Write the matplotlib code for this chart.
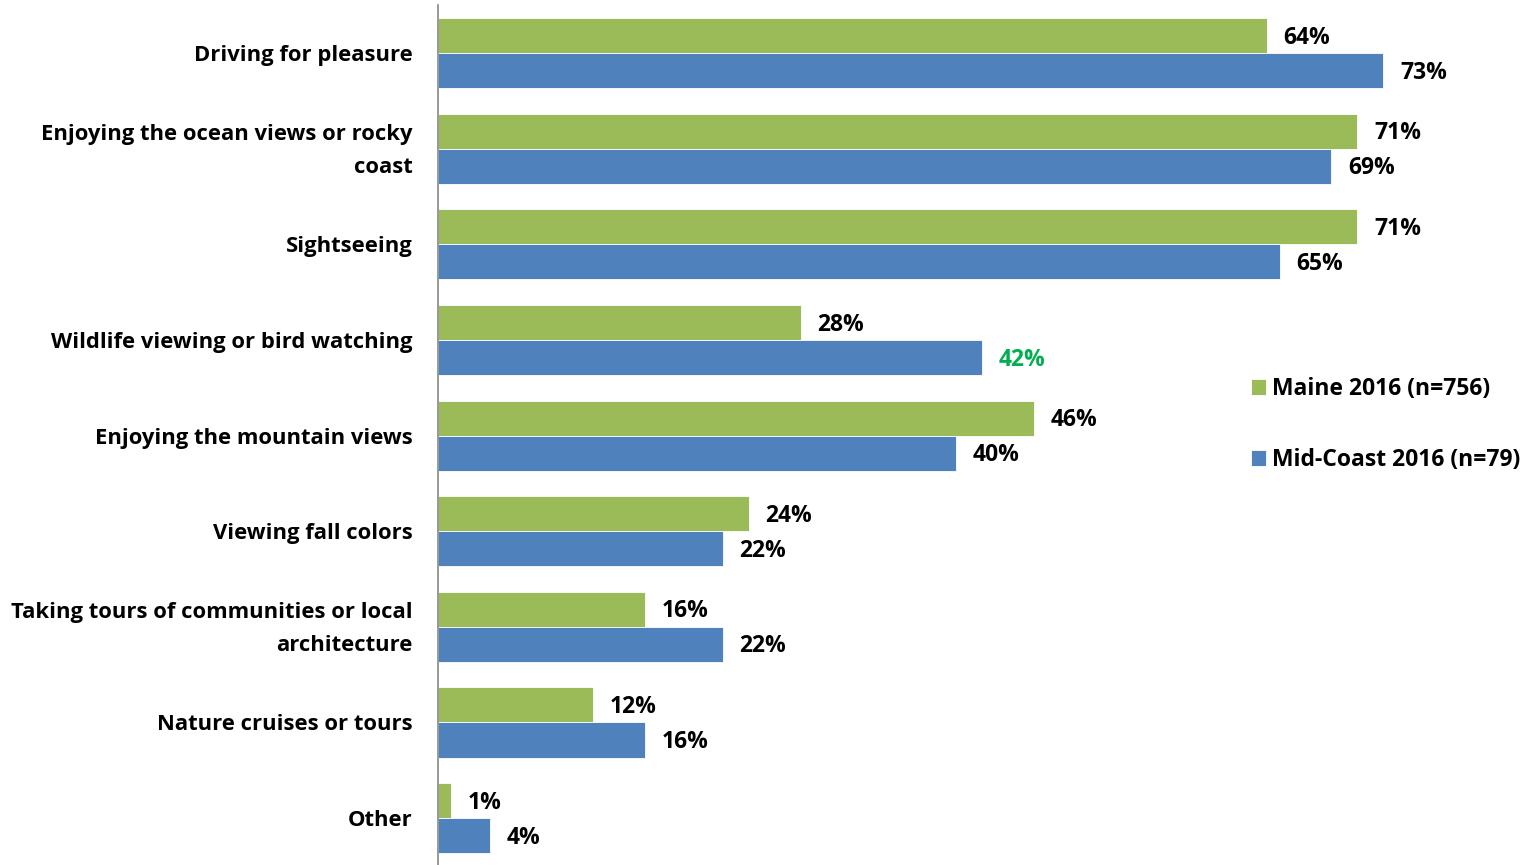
import numpy as np
import matplotlib.pyplot as plt
from matplotlib.transforms import ScaledTranslation

# Datos
categorias = [
    "Driving for pleasure",
    "Enjoying the ocean views or rocky\ncoast",
    "Sightseeing",
    "Wildlife viewing or bird watching",
    "Enjoying the mountain views",
    "Viewing fall colors",
    "Taking tours of communities or local\narchitecture",
    "Nature cruises or tours",
    "Other",
]
maine = [64, 71, 71, 28, 46, 24, 16, 12, 1]
midcoast = [73, 69, 65, 42, 40, 22, 22, 16, 4]
serie_maine = "Maine 2016 (n=756)"
serie_midcoast = "Mid-Coast 2016 (n=79)"

verde = "#9BBB59"
azul = "#4F81BD"

plt.rcParams['font.family'] = ['Open Sans', 'DejaVu Sans']
plt.rcParams['font.weight'] = 'bold'
fs_cat = 15.8
fs_val = 16.5

fig = plt.figure(figsize=(15.27, 8.65), dpi=100)
ax = fig.add_axes([438/1527, 0, 1089/1527, 860/865])

y = np.arange(len(categorias))
h = 0.366
b1 = ax.barh(y - h/2, maine, height=h, color=verde, edgecolor='white', linewidth=0.6, label=serie_maine)
b2 = ax.barh(y + h/2, midcoast, height=h, color=azul, edgecolor='white', linewidth=0.6, label=serie_midcoast)

# Etiquetas de valores
for i in range(len(categorias)):
    ax.annotate(f"{maine[i]}%", (maine[i], y[i] - h/2), xytext=(12, -1.5),
                textcoords='offset points', va='center', ha='left',
                fontsize=fs_val, fontweight='bold', color='black')
    col = '#00B050' if i == 3 else 'black'
    ax.annotate(f"{midcoast[i]}%", (midcoast[i], y[i] + h/2), xytext=(12, -1.5),
                textcoords='offset points', va='center', ha='left',
                fontsize=fs_val, fontweight='bold', color=col)

ax.set_xlim(0, 84.1)
ax.set_ylim(8.49, -0.502)
ax.set_yticks(y)
ax.set_yticklabels(categorias, fontsize=fs_cat, fontweight='bold', ha='right',
                   multialignment='right', linespacing=1.75)
ax.tick_params(axis='y', length=0, pad=18.5)
ax.set_xticks([])

# subir un poco las etiquetas de dos lineas
for lab in ax.get_yticklabels():
    if "\n" in lab.get_text():
        lab.set_transform(lab.get_transform() + ScaledTranslation(0, 0.065, fig.dpi_scale_trans))

for s in ['top', 'right', 'bottom']:
    ax.spines[s].set_visible(False)
ax.spines['left'].set_color('#868686')
ax.spines['left'].set_linewidth(1.2)

leg = ax.legend(handles=[b1, b2], loc='upper left', bbox_to_anchor=(0.7377, 0.578),
                frameon=False, fontsize=fs_val, handlelength=0.655, handleheight=0.655,
                handletextpad=0.3, labelspacing=2.05, borderaxespad=0)
for t in leg.get_texts():
    t.set_fontweight('bold')

plt.savefig("out.png", dpi=100)
